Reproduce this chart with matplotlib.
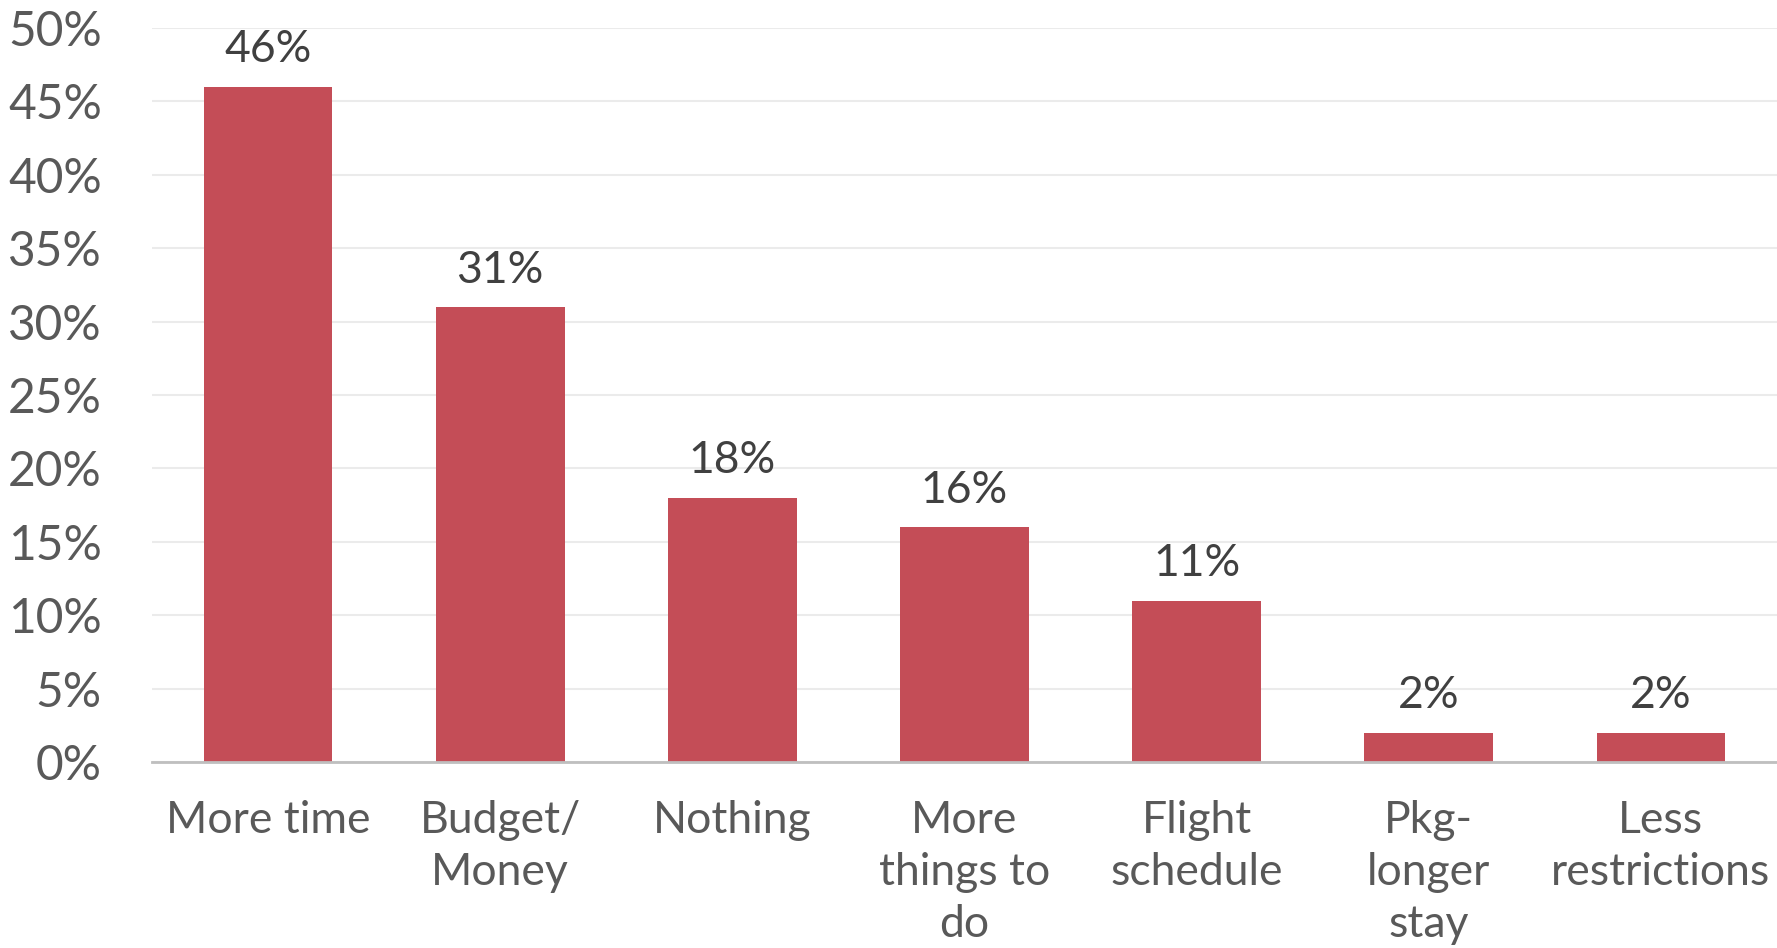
import matplotlib
matplotlib.use("Agg")
import matplotlib.pyplot as plt
from matplotlib.ticker import FuncFormatter, MultipleLocator

categories = ["More time", "Budget/\nMoney", "Nothing", "More\nthings to\ndo",
              "Flight\nschedule", "Pkg-\nlonger\nstay", "Less\nrestrictions"]
values = [0.46, 0.31, 0.18, 0.16, 0.11, 0.02, 0.02]
value_labels = ["46%", "31%", "18%", "16%", "11%", "2%", "2%"]

FONT = ["Lato", "DejaVu Sans"]
plt.rcParams['font.family'] = FONT

fig = plt.figure(figsize=(17.77, 9.48), dpi=100)
ax = fig.add_axes([0.0855, 0.1962, 0.9145, 0.7743])

x = list(range(len(categories)))
ax.bar(x, values, width=0.555, color="#C44D57", zorder=3)

for xi, v, lab in zip(x, values, value_labels):
    ax.annotate(lab, (xi, v), xytext=(0, 17.5), textcoords="offset points",
                ha="center", va="baseline", fontsize=32, color="#404040",
                fontweight="normal")

ax.set_xlim(-0.5, 6.5)
ax.set_ylim(0, 0.5)
ax.yaxis.set_major_locator(MultipleLocator(0.05))
ax.yaxis.set_major_formatter(FuncFormatter(lambda v, p: f"{round(v*100)}%"))
ax.grid(axis="y", color="#ebebeb", linewidth=1.5, zorder=0)
ax.set_axisbelow(True)

ax.set_xticks(x)
ax.set_xticklabels(categories, fontsize=32, color="#595959", fontweight="normal",
                   linespacing=1.34)
for lab in ax.get_yticklabels():
    lab.set_fontsize(34.5)
    lab.set_color("#595959")
    lab.set_fontweight("normal")

ax.tick_params(axis="x", length=0, pad=27)
ax.tick_params(axis="y", length=0, pad=36)

for s in ["top", "right", "left"]:
    ax.spines[s].set_visible(False)
ax.spines["bottom"].set_color("#bfbfbf")
ax.spines["bottom"].set_linewidth(2)
ax.spines["bottom"].set_zorder(4)

fig.savefig("out.png", dpi=100)
